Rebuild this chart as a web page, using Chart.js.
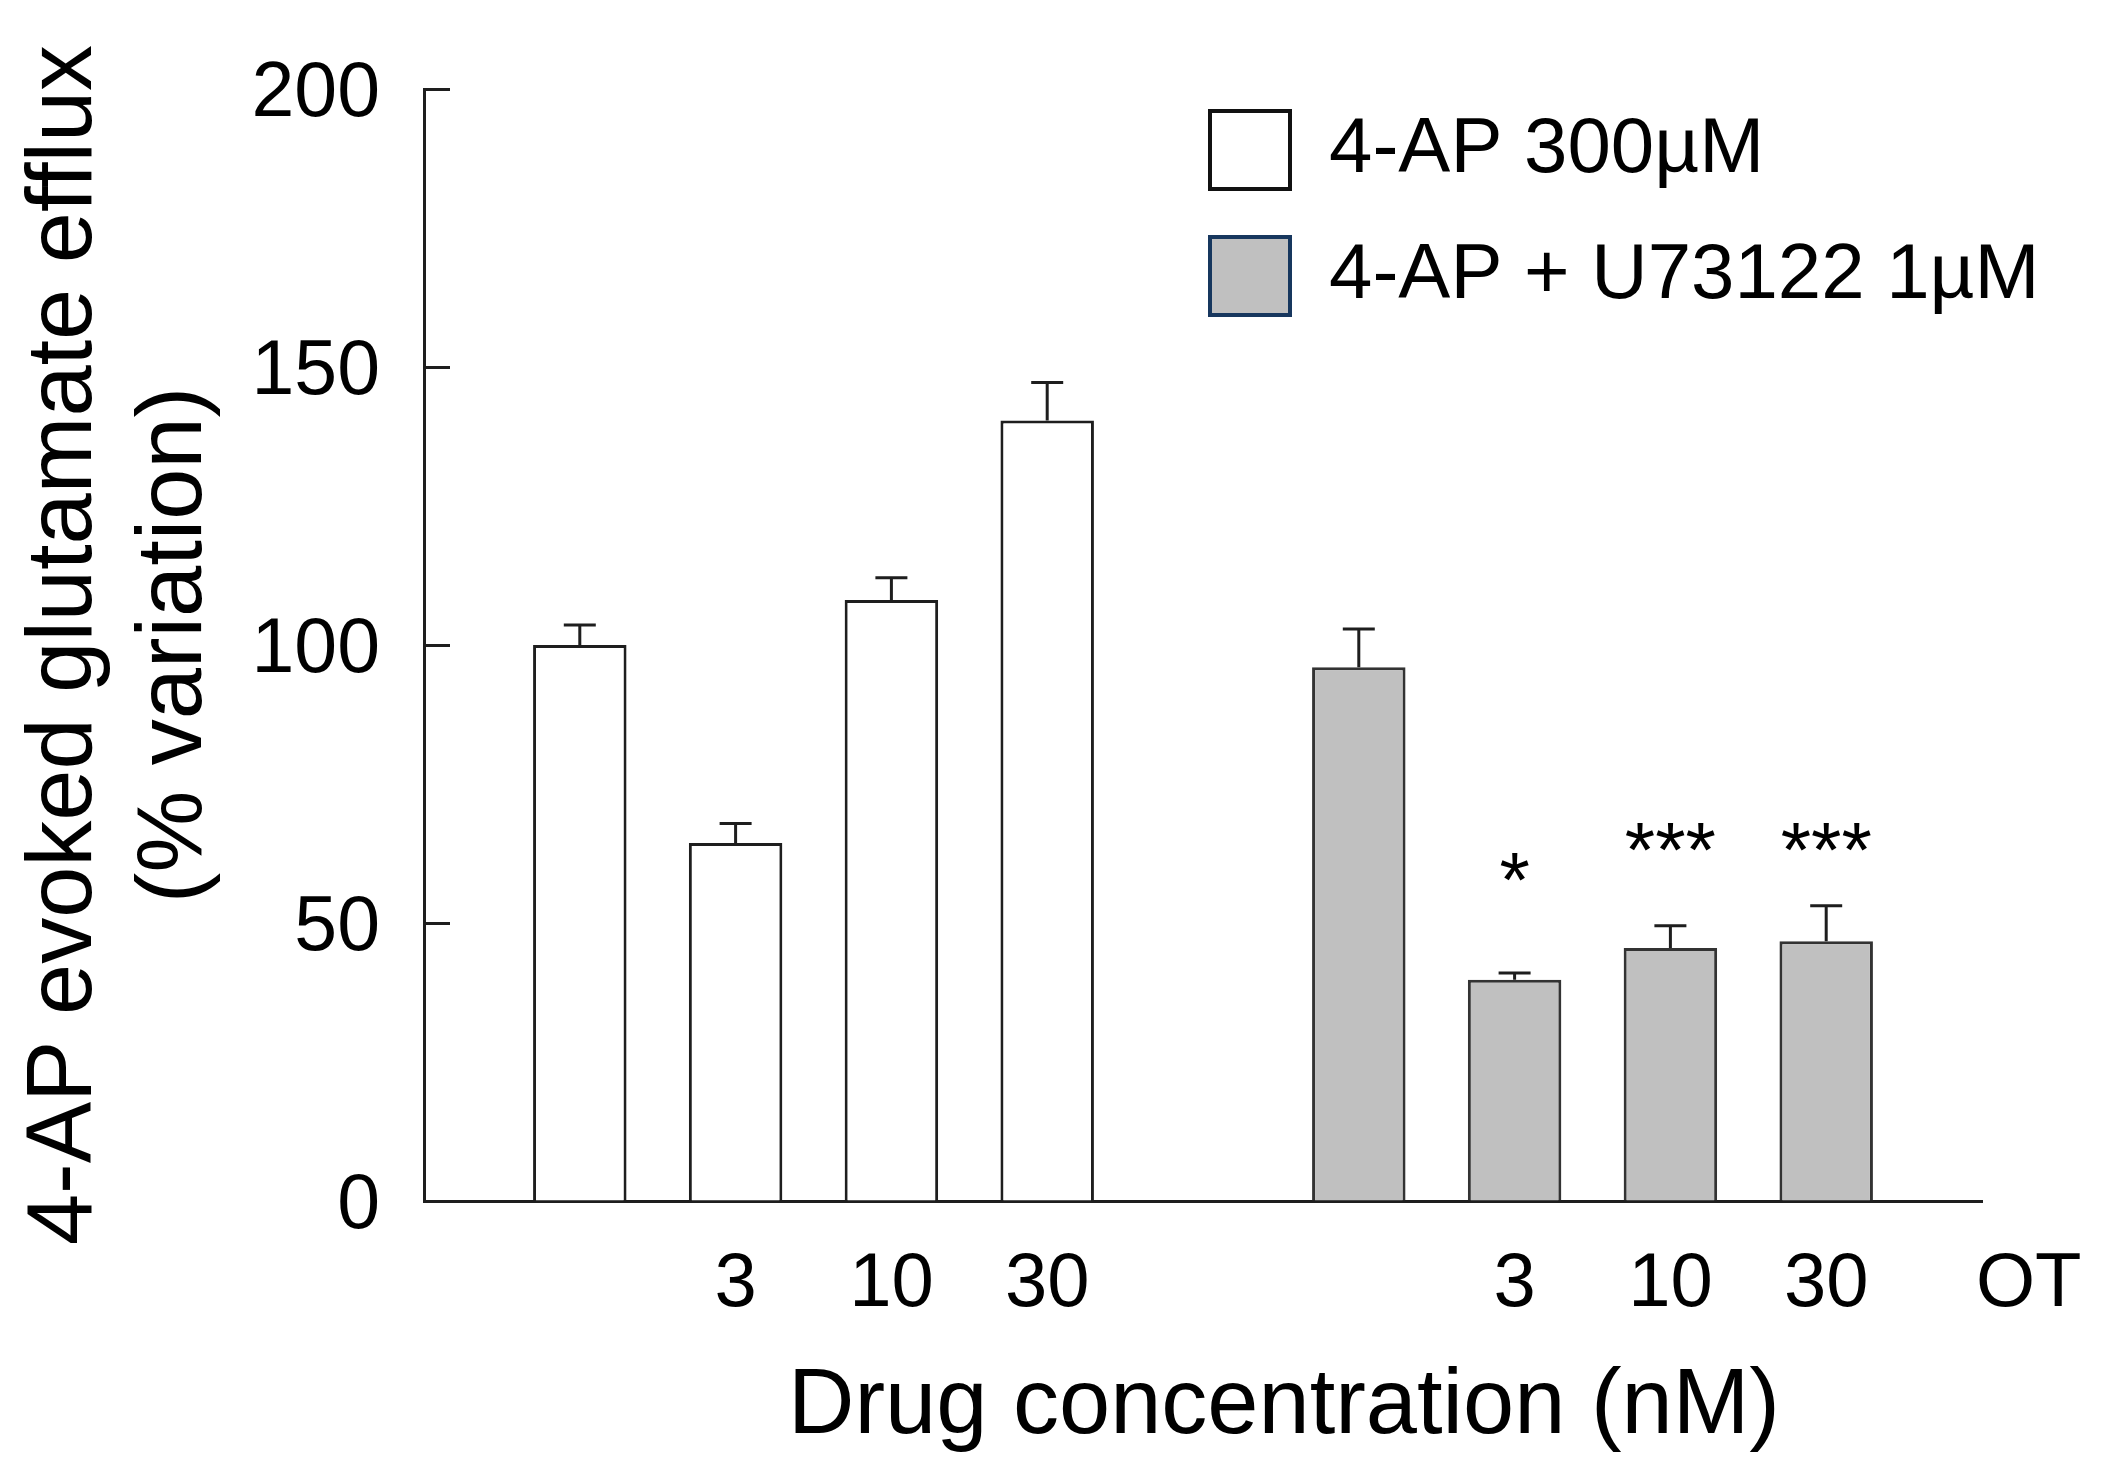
<!DOCTYPE html>
<html>
<head>
<meta charset="utf-8">
<title>4-AP evoked glutamate efflux</title>
<script src="https://cdn.jsdelivr.net/npm/chart.js@4.4.1/dist/chart.umd.min.js"></script>
<style>
    html, body { margin: 0; padding: 0; background: #ffffff; }
    #wrap { width: 2106px; height: 1484px; }
</style>
</head>
<body>
<div id="wrap"><canvas id="effluxChart"></canvas></div>
<script>
// slots 0 and 10 are the ends of the x axis, slot 5 is the gap between the groups
const concLabels = ["", "", "3", "10", "30", "", "", "3", "10", "30", ""];
const apMean  = [null, 100, 64.4, 108.1, 140.4, null, null, null, null, null, null];
const apSem   = [null, 3.6, 3.5, 4.0, 6.8, null, null, null, null, null, null];
const u73Mean = [null, null, null, null, null, null, 96.0, 39.8, 45.5, 46.7, null];
const u73Sem  = [null, null, null, null, null, null, 6.9, 1.2, 4.0, 6.4, null];
const sigMarks = ["", "", "", "", "", "", "", "*", "***", "***", ""];
const sigLevel = [null, null, null, null, null, null, null, 59.5, 64.9, 64.9, null];
const seriesNames = ["4-AP 300µM", "4-AP + U73122 1µM"];
const otLabel = "OT";
const xTitle = "Drug concentration (nM)";
const yTitle = ["4-AP evoked glutamate efflux", "(% variation)"];

const fontFamily = "'Liberation Sans', Arial, Helvetica, sans-serif";
const ink = "#1e1e1e";
const semSets = [apSem, u73Sem];

// where the extra texts sit, in x-slot units
const otSlot = 10.3;
const xTitleSlot = 5.52;

const errorBars = {
    id: "errorBars",
    afterDatasetsDraw(chart) {
        const ctx = chart.ctx;
        const y = chart.scales.y;
        ctx.save();
        ctx.lineWidth = 3;
        ctx.strokeStyle = ink;
        chart.data.datasets.forEach((ds, i) => {
            const meta = chart.getDatasetMeta(i);
            meta.data.forEach((bar, j) => {
                const sem = semSets[i][j];
                if (ds.data[j] == null || sem == null) return;
                const top = y.getPixelForValue(ds.data[j] + sem);
                ctx.beginPath();
                ctx.moveTo(bar.x, bar.y);
                ctx.lineTo(bar.x, top);
                ctx.moveTo(bar.x - 16, top);
                ctx.lineTo(bar.x + 16, top);
                ctx.stroke();
            });
        });
        ctx.restore();
    }
};

const extraText = {
    id: "extraText",
    afterLayout(chart) {
        // legend sits inside the plot, top right
        const lg = chart.legend;
        lg.left = 1162;
        lg.top = 63;
        lg.right = chart.width;
        lg.bottom = chart.height;
    },
    afterDraw(chart) {
        const ctx = chart.ctx;
        const x = chart.scales.x;
        const y = chart.scales.y;
        ctx.save();
        ctx.fillStyle = "#000";
        ctx.textAlign = "center";

        ctx.font = "78px " + fontFamily;
        ctx.textBaseline = "alphabetic";
        sigMarks.forEach((mark, j) => {
            if (!mark) return;
            ctx.fillText(mark, x.getPixelForValue(j), y.getPixelForValue(sigLevel[j]) + 0.475 * 78);
        });

        ctx.font = "76px " + fontFamily;
        ctx.textBaseline = "middle";
        ctx.fillText(otLabel, x.getPixelForValue(otSlot), x.top + 38 + 76 * 0.6);

        ctx.font = "92px " + fontFamily;
        ctx.fillText(xTitle, x.getPixelForValue(xTitleSlot), x.bottom - 76);
        ctx.restore();
    }
};

const ctx = document.getElementById("effluxChart").getContext("2d");
const effluxChart = new Chart(ctx, {
    type: "bar",
    data: {
        labels: concLabels,
        datasets: [
            {
                label: seriesNames[0],
                data: apMean,
                backgroundColor: "#ffffff",
                borderColor: ink,
                borderWidth: 3,
                grouped: false,
                barPercentage: 0.6,
                categoryPercentage: 1.0
            },
            {
                label: seriesNames[1],
                data: u73Mean,
                backgroundColor: "#c0c0c0",
                borderColor: "#333333",
                borderWidth: 3,
                grouped: false,
                barPercentage: 0.6,
                categoryPercentage: 1.0
            }
        ]
    },
    options: {
        responsive: true,
        maintainAspectRatio: false,
        devicePixelRatio: 1,
        animation: false,
        layout: { padding: { left: 10, top: 89, right: 124, bottom: 0 } },
        font: { family: fontFamily },
        plugins: {
            tooltip: { enabled: false },
            legend: {
                position: "chartArea",
                fullSize: false,
                align: "start",
                labels: {
                    color: "#000",
                    font: { size: 78, family: fontFamily },
                    boxWidth: 80,
                    boxHeight: 78,
                    padding: 48,
                    generateLabels: (chart) =>
                        Chart.defaults.plugins.legend.labels.generateLabels(chart).map((item, i) => ({
                            ...item,
                            lineWidth: 4,
                            strokeStyle: i === 0 ? "#111111" : "#17375e"
                        }))
                }
            }
        },
        scales: {
            x: {
                type: "category",
                offset: false,
                grid: { display: false, drawTicks: false },
                border: { display: true, color: ink, width: 3 },
                ticks: {
                    color: "#000",
                    font: { size: 76, family: fontFamily },
                    padding: 38,
                    autoSkip: false,
                    maxRotation: 0
                },
                afterFit: (scale) => { scale.height = 283; }
            },
            y: {
                min: 0,
                max: 200,
                grid: {
                    drawOnChartArea: false,
                    drawTicks: true,
                    tickLength: -26,
                    tickWidth: 3,
                    color: ink
                },
                border: { display: true, color: ink, width: 3 },
                ticks: {
                    stepSize: 50,
                    color: "#000",
                    font: { size: 77, family: fontFamily },
                    padding: 70,
                    labelOffset: 6
                },
                title: {
                    display: true,
                    text: yTitle,
                    color: "#000",
                    font: { size: 92, family: fontFamily, lineHeight: 1.2 },
                    padding: { top: 0, bottom: 0 }
                },
                afterFit: (scale) => {
                    // the big label padding would otherwise push the plot top down
                    scale.width = 414;
                    scale.paddingTop = 40;
                    scale.paddingBottom = 40;
                }
            }
        }
    },
    plugins: [errorBars, extraText]
});
</script>
</body>
</html>
